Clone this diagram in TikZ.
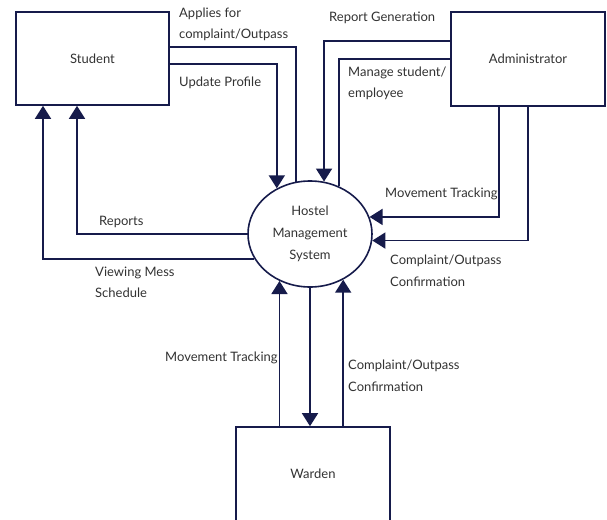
\documentclass[tikz,border=0pt]{standalone}
\usepackage{fontspec}
\setmainfont{Lato}
\usetikzlibrary{arrows.meta,shapes.geometric}

\definecolor{navy}{RGB}{22,27,75}
\definecolor{txt}{RGB}{50,50,50}

\begin{document}
\begin{tikzpicture}[x=1pt,y=-1pt,
    box/.style={draw=navy, line width=1.6pt, minimum width=153pt, minimum height=93pt,
        text=txt, font=\fontsize{13}{21.5}\selectfont},
    line/.style={draw=navy, line width=1.6pt},
    flow/.style={line, -{Triangle[width=16pt,length=13pt]}},
    lbl/.style={anchor=west, inner sep=0pt, align=left, text=txt,
        font=\fontsize{13}{21.5}\selectfont}]
    \useasboundingbox (0,0) rectangle (607,519);

    % External entities
    \node[box] (student) at (92.5,58.5) {Student};
    \node[box, minimum width=154pt, minimum height=94pt] (admin) at (528,59) {Administrator};
    \node[box, minimum width=154pt, minimum height=94pt] (warden) at (313,474) {Warden};

    % Process
    \node[ellipse, draw=navy, line width=1.6pt, minimum width=124pt, minimum height=106pt,
        inner sep=0pt, align=center, text=txt, font=\fontsize{13}{22}\selectfont]
        (hms) at (310,234) {Hostel\\Management\\System};

    % Student flows
    \draw[line] ([yshift=11.5pt]student.east) -| (hms.105);
    \draw[flow] ([yshift=-5.5pt]student.east) -| (hms.126);
    \draw[flow] (hms.180) -| ([xshift=-15.5pt]student.south);
    \draw[flow] (hms.204) -| ([xshift=-49.5pt]student.south);

    % Administrator flows
    \draw[flow] ([yshift=18pt]admin.west) -| (hms.75);
    \draw[line] (admin.west) -| (hms.59);
    \draw[flow] ([xshift=-29pt]admin.south) |- (hms.16);
    \draw[flow] (admin.south) |- (hms.354);

    % Warden flows
    \draw[flow] (warden.north -| hms.237) -- (hms.237);
    \draw[flow] (hms.270) -- (warden.north -| hms.270);
    \draw[flow] (warden.north -| hms.306) -- (hms.306);

    % Labels
    \node[lbl] (applies) at (179,24.5) {Applies for\\complaint/Outpass};
    \node[lbl] (update) at (179,83) {Update Profile};
    \node[lbl] (repgen) at (329,18) {Report Generation};
    \node[lbl] (manage) at (348,83.5) {Manage student/\\employee};
    \node[lbl] (movadmin) at (385,194) {Movement Tracking};
    \node[lbl] (confadmin) at (390,271) {Complaint/Outpass\\Confirmation};
    \node[lbl] (reports) at (99,222) {Reports};
    \node[lbl] (viewing) at (95,282.5) {Viewing Mess\\Schedule};
    \node[lbl] (movwarden) at (165,358) {Movement Tracking};
    \node[lbl] (confwarden) at (348,376) {Complaint/Outpass\\Confirmation};
\end{tikzpicture}
\end{document}
